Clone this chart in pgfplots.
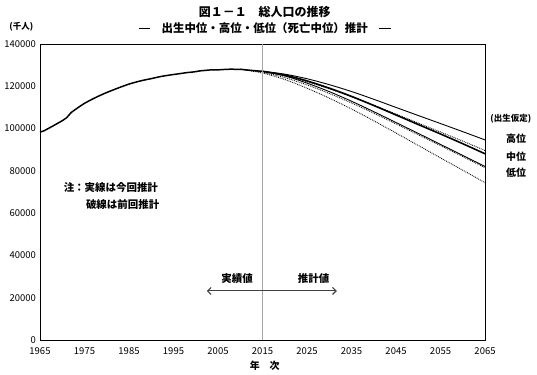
\documentclass[border=0pt]{standalone}
\usepackage{fontspec}
\setmainfont{Noto Sans CJK JP}
\usepackage{pgfplots}
\pgfplotsset{compat=1.18}
\usetikzlibrary{arrows.meta}
\newcommand{\bardash}{\raisebox{0.3em}{\rule{1em}{1.3pt}}}
\begin{document}
\begin{tikzpicture}[x=1bp,y=1bp]
\useasboundingbox (-40bp,-35bp) rectangle (497bp,340bp);
\begin{axis}[
  at={(0,0)}, anchor=south west,
  scale only axis, width=445bp, height=296bp,
  xmin=1965, xmax=2065, ymin=0, ymax=140000,
  xtick={1965,1975,1985,1995,2005,2015,2025,2035,2045,2055,2065},
  xticklabels={1965,1975,1985,1995,2005,2015,2025,2035,2045,2055,2065},
  ytick={0,20000,40000,60000,80000,100000,120000,140000},
  yticklabels={0,20000,40000,60000,80000,100000,120000,140000},
  major tick length=0pt,
  scaled ticks=false,
  xticklabel style={font=\fontsize{9.5}{10}\selectfont, inner sep=1bp, yshift=-6bp},
  yticklabel style={font=\fontsize{9.5}{10}\selectfont, inner sep=1bp, xshift=-3bp, yshift=0bp},
  axis line style={black, line width=0.9pt},
  clip=false,
]
% actual
\addplot[black, line width=1.5pt] coordinates {
(1965,98275)(1966,99036)(1967,100196)(1968,101331)(1969,102536)(1970,103720)(1971,105145)(1972,107595)(1973,109104)(1974,110573)(1975,111940)(1976,113094)(1977,114165)(1978,115190)(1979,116155)(1980,117060)(1981,117902)(1982,118728)(1983,119536)(1984,120305)(1985,121049)(1986,121660)(1987,122239)(1988,122745)(1989,123205)(1990,123611)(1991,124101)(1992,124567)(1993,124938)(1994,125265)(1995,125570)(1996,125859)(1997,126157)(1998,126472)(1999,126667)(2000,126926)(2001,127316)(2002,127486)(2003,127694)(2004,127787)(2005,127768)(2006,127901)(2007,128033)(2008,128084)(2009,128032)(2010,128057)(2011,127834)(2012,127593)(2013,127414)(2014,127237)(2015,127095)};
% previous projections (dotted)
\addplot[black, densely dotted, line width=0.85pt, smooth] coordinates {
(2010,128057)(2015,126932)(2020,124969)(2025,122146)(2030,118795)(2035,115082)(2040,111053)(2045,106869)(2050,102613)(2055,98363)(2060,94083)(2065,89600)};
\addplot[black, densely dotted, line width=0.85pt, smooth] coordinates {
(2010,128057)(2015,126597)(2020,124100)(2025,120659)(2030,116618)(2035,112124)(2040,107276)(2045,102210)(2050,97076)(2055,91933)(2060,86737)(2065,81500)};
\addplot[black, densely dotted, line width=0.85pt, smooth] coordinates {
(2010,128057)(2015,126254)(2020,123208)(2025,119085)(2030,114408)(2035,109254)(2040,103687)(2045,97905)(2050,92030)(2055,86129)(2060,80318)(2065,74400)};
% new projections (solid)
\addplot[black, line width=0.9pt, smooth] coordinates {
(2015,127095)(2020,125737)(2025,123574)(2030,120764)(2035,117525)(2040,113855)(2045,110000)(2050,106180)(2055,102380)(2060,98540)(2065,94640)};
\addplot[black, line width=1.6pt, smooth] coordinates {
(2015,127095)(2020,125325)(2025,122544)(2030,119125)(2035,115216)(2040,110919)(2045,106421)(2050,101923)(2055,97441)(2060,92840)(2065,88077)};
\addplot[black, line width=0.9pt, smooth] coordinates {
(2015,127095)(2020,124902)(2025,121502)(2030,117485)(2035,112927)(2040,107996)(2045,102866)(2050,97712)(2055,92513)(2060,87293)(2065,82083)};
% 2015 line
\draw[gray!70, line width=0.8pt] (axis cs:2015,0) -- (axis cs:2015,140000);
% arrows
\draw[{Straight Barb[length=3.5bp,width=7bp]}-{Straight Barb[length=3.5bp,width=7bp]}, gray!50!black, line width=1.1pt] (axis cs:2002.5,23200) -- (axis cs:2031.7,23200);
\node[font=\fontsize{10.5}{11}\selectfont\bfseries] at (axis cs:2009.3,29300) {実績値};
\node[font=\fontsize{10.5}{11}\selectfont\bfseries] at (axis cs:2026.5,29300) {推計値};
% note
\node[anchor=west, font=\fontsize{10.5}{11}\selectfont\bfseries, inner sep=0pt] at (axis cs:1970.3,71900) {注：実線は今回推計};
\node[anchor=west, font=\fontsize{10.5}{11}\selectfont\bfseries, inner sep=0pt] at (axis cs:1975.3,64300) {破線は前回推計};
% right labels
\node[font=\fontsize{8.5}{9}\selectfont\bfseries, inner sep=0pt] at (axis cs:2070.8,104600) {(出生仮定)};
\node[font=\fontsize{10}{11}\selectfont\bfseries] at (axis cs:2072.0,95300) {高位};
\node[font=\fontsize{10}{11}\selectfont\bfseries] at (axis cs:2072.0,86800) {中位};
\node[font=\fontsize{10}{11}\selectfont\bfseries] at (axis cs:2072.0,79200) {低位};
% unit
\node[font=\fontsize{8.5}{9}\selectfont\bfseries, inner sep=0pt] at (axis cs:1960.8,148000) {(千人)};
% x label
\node[font=\fontsize{10}{11}\selectfont\bfseries] at (axis cs:2015.5,-12300) {年\hspace{1em}次};
% titles
\node[font=\fontsize{12}{13}\selectfont\bfseries] at (axis cs:2015.5,155300) {図１－１　総人口の推移};
\node[font=\fontsize{11.5}{12}\selectfont\bfseries] at (axis cs:2015.5,147400) {\bardash\quad 出生中位・高位・低位（死亡中位）推計\quad\bardash};
\end{axis}
\end{tikzpicture}
\end{document}
